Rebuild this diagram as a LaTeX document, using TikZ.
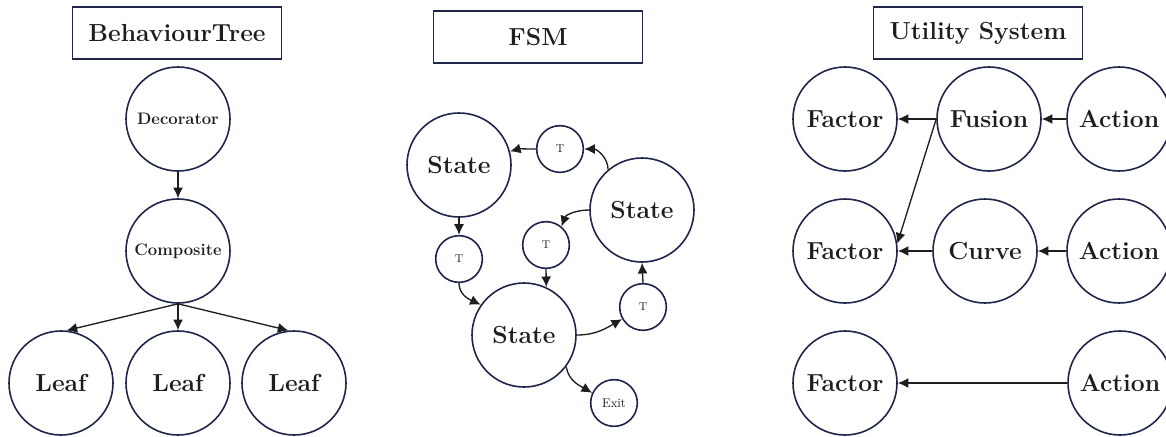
\documentclass[tikz,border=0pt]{standalone}
\usetikzlibrary{arrows.meta, positioning}
\definecolor{navy}{RGB}{32,38,74}
\definecolor{ink}{RGB}{30,30,30}

\begin{document}
\begin{tikzpicture}[x=0.75pt, y=-0.75pt, auto, >={Latex[length=8pt,width=7.5pt]},
		titlebox/.style={draw=navy, line width=1.2pt, rectangle, minimum width=157pt, minimum height=39pt, text=ink, font=\fontsize{18.5}{20}\selectfont\bfseries},
		bigstate/.style={draw=navy, line width=1.2pt, circle, minimum size=78pt, inner sep=0pt, text=ink, font=\fontsize{18.5}{20}\selectfont\bfseries},
		midstate/.style={bigstate, font=\fontsize{12.5}{14}\selectfont\bfseries},
		tstate/.style={draw=navy, line width=1.2pt, circle, minimum size=35pt, inner sep=0pt, text=ink, font=\fontsize{8.5}{9}\selectfont},
		link/.style={->, line width=1pt, draw=ink}]
		\useasboundingbox (0,0) rectangle (1166,436);
		% behaviour tree
		\node[titlebox] (bt) at (177,33) {BehaviourTree};
		\node[midstate] (bt_dec) at (178,119) {Decorator};
		\node[midstate] (bt_comp) at (178,251) {Composite};
		\node[bigstate] (bt_leaf1) at (61,383) {Leaf};
		\node[bigstate] (bt_leaf2) at (178,383) {Leaf};
		\node[bigstate] (bt_leaf3) at (294,383) {Leaf};
		\draw[link] (bt_dec) -- (bt_comp);
		\draw[link] (bt_comp.south) -- (bt_leaf1.84);
		\draw[link] (bt_comp.south) -- (bt_leaf2.north);
		\draw[link] (bt_comp.south) -- (bt_leaf3.96);
		% fsm
		\node[titlebox] (fsm) at (538,37) {FSM};
		\node[bigstate] (fsm_s1) at (459,165) {State};
		\node[bigstate] (fsm_s2) at (642,210) {State};
		\node[bigstate] (fsm_s3) at (524,335) {State};
		\node[tstate] (fsm_t1) at (560,149) {T};
		\node[tstate] (fsm_t2) at (546,245) {T};
		\node[tstate] (fsm_t3) at (459,259) {T};
		\node[tstate] (fsm_t4) at (643,307) {T};
		\node[tstate, font=\fontsize{9.5}{10}\selectfont] (fsm_exit) at (614,403) {Exit};
		\draw[link] (fsm_s2.130) to[out=90, in=0] (fsm_t1.east);
		\draw[link] (fsm_t1.west) to[out=180, in=15] (fsm_s1.15);
		\draw[link] (fsm_s1.south) -- (fsm_t3.north);
		\draw[link] (fsm_t3.south) to[out=-90, in=155] (fsm_s3.145);
		\draw[link] (fsm_s2.west) to[out=180, in=70] (fsm_t2.50);
		\draw[link] (fsm_t2.south) -- (fsm_s3.65);
		\draw[link] (fsm_s3.east) to[out=0, in=210] (fsm_t4.210);
		\draw[link] (fsm_t4.north) -- (fsm_s2.south);
		\draw[link] (fsm_s3.-37) to[out=-80, in=150] (fsm_exit.155);
		% utility system
		\node[titlebox] (us) at (978,33) {Utility System};
		\node[bigstate] (us_fac1) at (845,119) {Factor};
		\node[bigstate] (us_fac2) at (845,251) {Factor};
		\node[bigstate] (us_fac3) at (845,383) {Factor};
		\node[bigstate] (us_fus) at (989,119) {Fusion};
		\node[bigstate] (us_cur) at (985,251) {Curve};
		\node[bigstate] (us_act1) at (1119,119) {Action};
		\node[bigstate] (us_act2) at (1119,251) {Action};
		\node[bigstate] (us_act3) at (1120,383) {Action};
		\draw[link] (us_act1) -- (us_fus);
		\draw[link] (us_fus.west) -- (us_fac1.east);
		\draw[link] (us_fus.west) -- (us_fac2.8);
		\draw[link] (us_act2) -- (us_cur);
		\draw[link] (us_cur) -- (us_fac2);
		\draw[link] (us_act3) -- (us_fac3);
	\end{tikzpicture}
\end{document}
